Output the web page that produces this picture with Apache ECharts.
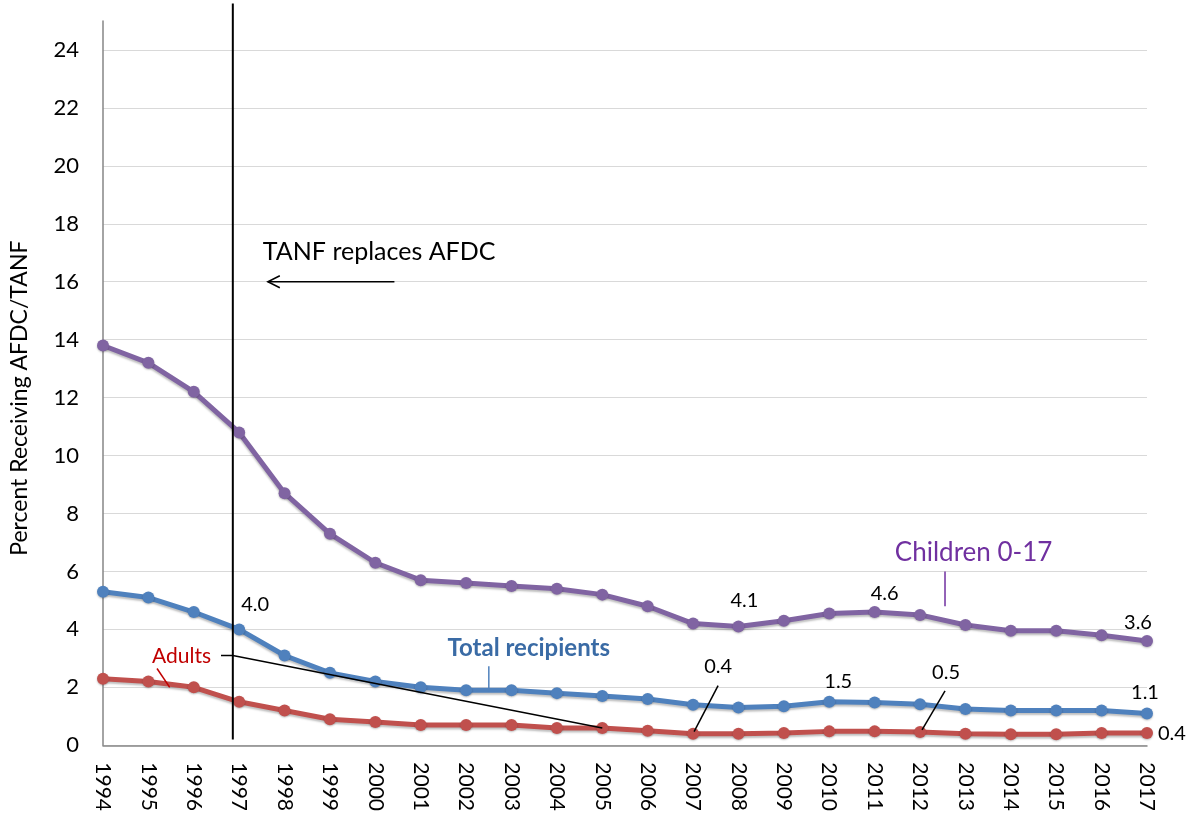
<!DOCTYPE html>
<html><head><meta charset="utf-8">
<script src="https://cdn.jsdelivr.net/npm/echarts@6/dist/echarts.min.js"></script>
<style>html,body{margin:0;padding:0;background:#fff}#c{width:1189px;height:814px}</style>
</head><body><div id="c"></div>
<script>
const years = ['1994','1995','1996','1997','1998','1999','2000','2001','2002','2003','2004','2005','2006','2007','2008','2009','2010','2011','2012','2013','2014','2015','2016','2017'];
const children = [13.8,13.2,12.2,10.8,8.7,7.3,6.3,5.7,5.6,5.5,5.4,5.2,4.8,4.2,4.1,4.3,4.55,4.6,4.5,4.15,3.95,3.95,3.8,3.6];
const total = [5.3,5.1,4.6,4.0,3.1,2.5,2.2,2.0,1.9,1.9,1.8,1.7,1.6,1.4,1.3,1.35,1.5,1.48,1.42,1.25,1.2,1.2,1.2,1.1];
const adults = [2.3,2.2,2.0,1.5,1.2,0.9,0.8,0.7,0.7,0.7,0.6,0.6,0.5,0.4,0.4,0.42,0.48,0.48,0.46,0.4,0.38,0.38,0.42,0.42];
const yMin = 0, yMax = 25, yInterval = 2;

const FONT = 'Lato, "Noto Sans", sans-serif';
const COL = {children:'#8064A2', total:'#4F81BD', adults:'#C0504D'};

// label styling per series: index -> {position, offset}
const labelStyle = {
  children: {14:{position:'top',offset:[6,-5]}, 17:{position:'top',offset:[10,3]}, 23:{position:'top',offset:[-9,3]}},
  total: {3:{position:'top',offset:[16,-4]}, 16:{position:'top',offset:[9,1]}, 23:{position:'top',offset:[-2,0]}},
  adults: {13:{position:'top',offset:[25,-46]}, 18:{position:'top',offset:[26,-38]}, 23:{position:'right',offset:[0,0]}}
};

function buildData(vals, styles){
  return vals.map((v,i)=>{
    const s = styles[i];
    if(!s) return v;
    return {value:v, label:{show:true, position:s.position, offset:s.offset, distance:5,
      formatter: p => (Math.round(p.value*10)/10).toFixed(1), color:'#000', fontSize:20, fontFamily:FONT}};
  });
}

function mkSeries(name, vals, color, styles){
  return {
    name, type:'line', data: buildData(vals, styles),
    symbol:'circle', symbolSize:12, smooth:false,
    lineStyle:{width:5, color, shadowColor:'rgba(0,0,0,0.25)', shadowBlur:2, shadowOffsetY:2},
    itemStyle:{color, shadowColor:'rgba(0,0,0,0.25)', shadowBlur:2, shadowOffsetY:1},
    emphasis:{disabled:true}, animation:false, z:3
  };
}

const chart = echarts.init(document.getElementById('c'), null, {renderer:'canvas'});
chart.setOption({
  animation:false,
  textStyle:{fontFamily:FONT},
  grid:{left:101, right:42, top:21, bottom:68, containLabel:false},
  xAxis:{type:'category', data:years, boundaryGap:false,
    axisLine:{show:true, lineStyle:{color:'#868686', width:1.5}},
    axisTick:{show:false},
    axisLabel:{rotate:-90, color:'#000', fontSize:21, margin:17, fontFamily:FONT},
    splitLine:{show:false}},
  yAxis:{type:'value', min:yMin, max:yMax, interval:yInterval,
    name:'Percent Receiving AFDC/TANF', nameLocation:'middle', nameGap:72,
    nameTextStyle:{color:'#000', fontSize:23, fontFamily:FONT, padding:[0,30,0,0]},
    axisLine:{show:true, lineStyle:{color:'#868686', width:1.5}},
    axisTick:{show:false},
    axisLabel:{color:'#000', fontSize:22, margin:24, showMaxLabel:false, fontFamily:FONT},
    splitLine:{show:true, showMaxLine:false, lineStyle:{color:'#D9D9D9', width:1.2}}},
  series:[
    mkSeries('Children 0-17', children, COL.children, labelStyle.children),
    mkSeries('Total recipients', total, COL.total, labelStyle.total),
    mkSeries('Adults', adults, COL.adults, labelStyle.adults)
  ]
});

const P = (i, v) => chart.convertToPixel({gridIndex:0}, [i, v]);
const xAt = f => { const a = P(Math.floor(f),0)[0], b = P(Math.floor(f)+1,0)[0]; return a + (b-a)*(f-Math.floor(f)); };
const yAt = v => P(0, v)[1];

const vx = xAt(2.86);
const line = (pts, color, w) => ({type:'polyline', shape:{points:pts}, style:{stroke:color, lineWidth:w||1.5, fill:null}, z:10, silent:true});
const text = (str, cx, cy, color, size, weight, align) => ({type:'text', x:cx, y:cy, style:{text:str, fill:color, font:(weight||'normal')+' '+size+'px '+FONT, textAlign:align||'center', textVerticalAlign:'middle'}, z:10, silent:true});

const redPt2005 = P(11, adults[11]);
const pt2007 = P(13, adults[13]);
const pt2012 = P(18, adults[18]);
const arrowY = yAt(16);
const gx = [
  line([[vx, yAt(25.6)],[vx, yAt(0.2)]], '#000', 2),
  text('TANF replaces AFDC', vx+30, yAt(17.03), '#000', 25, 'normal', 'left'),
  line([[xAt(6.42), arrowY],[vx+35, arrowY]], '#000', 1.5),
  line([[vx+47, arrowY-6],[vx+35, arrowY],[vx+47, arrowY+6]], '#000', 1.5),
  text('Adults', xAt(1.73), yAt(3.07), '#C00000', 21, 'normal', 'center'),
  line([[xAt(1.19), yAt(2.65)],[xAt(1.47), yAt(2.0)]], '#C00000', 1.5),
  line([[xAt(2.6), yAt(3.1)],[vx, yAt(3.1)],[redPt2005[0], redPt2005[1]]], '#000', 1.5),
  text('Total recipients', xAt(9.38), yAt(3.36), '#3A6BA5', 24, 'bold', 'center'),
  line([[xAt(8.5), yAt(2.73)],[xAt(8.5), yAt(1.86)]], '#4F81BD', 1.5),
  text('Children 0-17', xAt(19.18), yAt(6.65), '#7030A0', 26, 'normal', 'center'),
  line([[xAt(18.55), yAt(6.0)],[xAt(18.55), yAt(4.8)]], '#7030A0', 1.5),
  line([[pt2007[0]+1, pt2007[1]-2],[pt2007[0]+25, pt2007[1]-48]], '#000', 1.5),
  line([[pt2012[0]+2, pt2012[1]-2],[pt2012[0]+25, pt2012[1]-41]], '#000', 1.5)
];
chart.setOption({graphic:{elements:gx}});
</script>
</body></html>
